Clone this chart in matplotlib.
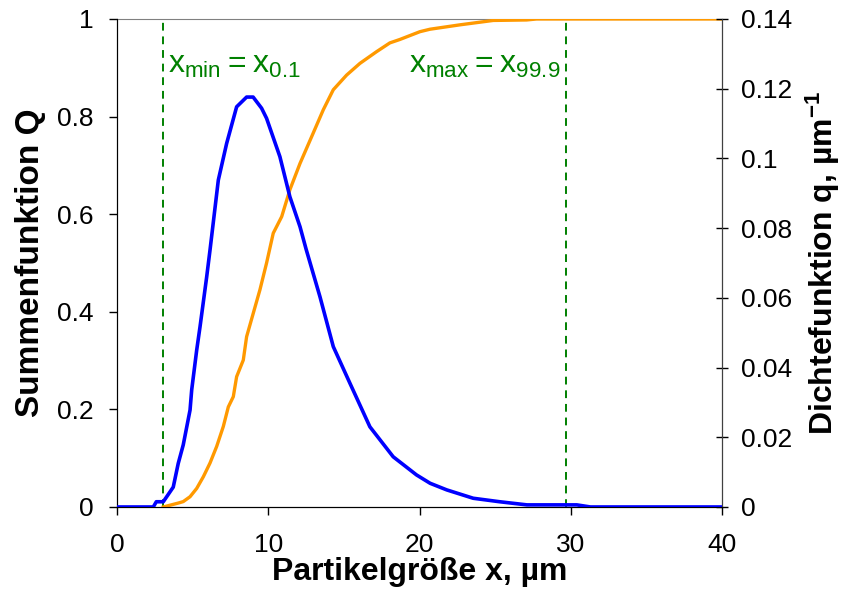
import numpy as np
import matplotlib
matplotlib.use("Agg")
import matplotlib.pyplot as plt

plt.rcParams['font.family'] = ['Liberation Sans', 'DejaVu Sans']
plt.rcParams['mathtext.fontset'] = 'custom'
plt.rcParams['mathtext.rm'] = 'Liberation Sans'
plt.rcParams['mathtext.bf'] = 'Liberation Sans:bold'

# Summenfunktion Q (linke Achse)
x_Q = [0, 3.06, 4.05, 4.38, 4.83, 5.27, 5.71, 6.15, 6.59, 7.03, 7.36, 7.69, 7.91,
       8.35, 8.57, 9.01, 9.45, 9.89, 10.33, 10.89, 11.43, 12.1, 12.97, 13.64,
       14.3, 15.18, 16.06, 17.16, 18.04, 18.7, 20.03, 20.69, 22.67, 24.87,
       27.08, 27.74, 40]
Q = [np.nan, 0.0, 0.008, 0.011, 0.021, 0.038, 0.062, 0.09, 0.124, 0.165, 0.205,
     0.226, 0.267, 0.301, 0.349, 0.397, 0.445, 0.5, 0.561, 0.595, 0.65, 0.704,
     0.766, 0.814, 0.855, 0.885, 0.909, 0.933, 0.951, 0.958, 0.974, 0.979,
     0.988, 0.997, 0.998, 1.0, 1.0]

# Dichtefunktion q (rechte Achse)
x_q = [0, 2.4, 2.6, 3.06, 3.72, 4.05, 4.38, 4.83, 4.94, 5.27, 5.49, 5.93, 6.15,
       6.7, 7.25, 7.91, 8.57, 9.0, 9.56, 9.89, 10.77, 11.43, 12.1, 12.5, 13.42,
       14.3, 15.4, 16.72, 18.26, 19.8, 20.7, 21.8, 23.55, 25.3, 27.1, 30.4,
       31.3, 40]
q = [0, 0, 0.0015, 0.0015, 0.0057, 0.0125, 0.0178, 0.0278, 0.0336, 0.045, 0.0517,
     0.066, 0.0737, 0.0938, 0.1043, 0.1148, 0.1176, 0.1176, 0.1144, 0.1115,
     0.1005, 0.089, 0.0804, 0.074, 0.0603, 0.046, 0.0355, 0.023, 0.0144, 0.0092,
     0.0068, 0.0049, 0.0025, 0.0015, 0.0006, 0.0006, 0.0, 0.0]

x_min = 3.06
x_max = 29.66

fig = plt.figure(figsize=(8.44, 5.97), dpi=100)
ax = fig.add_axes([0.1386, 0.1508, 0.7169, 0.8174])
ax2 = ax.twinx()

ax.plot(x_Q, Q, color='#FF9900', lw=2.4, zorder=3)
ax2.plot(x_q, q, color='#0000FF', lw=2.6, zorder=3)

for xv in (x_min, x_max):
    ax.axvline(xv, color='#008000', lw=1.4, ls=(0, (4, 3)), zorder=2)

ax.text(3.4, 0.889, r'$\mathregular{x_{min} = x_{0.1}}$', color='#008000',
        fontsize=23, va='baseline', ha='left')
ax.text(29.3, 0.889, r'$\mathregular{x_{max} = x_{99.9}}$', color='#008000',
        fontsize=23, va='baseline', ha='right')

ax.set_xlim(0, 40)
ax.set_ylim(0, 1)
ax2.set_ylim(0, 0.14)
ax.set_xticks([0, 10, 20, 30, 40])
ax.set_yticks([0, 0.2, 0.4, 0.6, 0.8, 1])
ax.set_yticklabels(['0', '0.2', '0.4', '0.6', '0.8', '1'])
ax2.set_yticks([0, 0.02, 0.04, 0.06, 0.08, 0.1, 0.12, 0.14])
ax2.set_yticklabels(['0', '0.02', '0.04', '0.06', '0.08', '0.1', '0.12', '0.14'])

ax.tick_params(axis='both', labelsize=19, length=6, width=1, direction='out')
ax.tick_params(axis='x', pad=13)
ax.tick_params(axis='y', pad=11)
ax2.tick_params(axis='y', labelsize=19, length=8, width=1, direction='inout', pad=10)

ax.spines['top'].set_color('#808080')
ax2.spines['top'].set_visible(False)
ax2.spines['right'].set_color('#404040')
for s in ('left', 'bottom'):
    ax.spines[s].set_color('black')

ax.set_xlabel('Partikelgröße x, µm', fontsize=23, fontweight='bold', labelpad=0)
ax.set_ylabel('Summenfunktion Q', fontsize=24, fontweight='bold', labelpad=8)
ax2.set_ylabel(r'Dichtefunktion q, µm$\mathbf{^{-1}}$', fontsize=23,
               fontweight='bold', labelpad=8)

fig.savefig('out.png', dpi=100)
